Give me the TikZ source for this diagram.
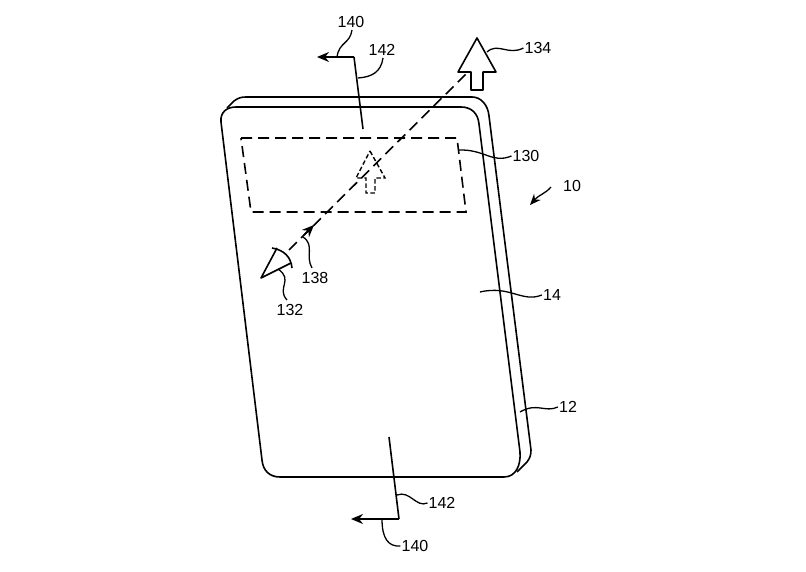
\documentclass[tikz,border=0pt]{standalone}
\usepackage{fontspec}
\setmainfont{Liberation Sans}
\usepackage{xcolor}
\usetikzlibrary{arrows.meta,positioning,calc}
\tikzset{
    outline/.style={line width=1.6pt,line join=round},
    leader/.style={line width=1.3pt},
    refnum/.style={font=\fontsize{16}{18}\selectfont,inner sep=1pt},
    dashline/.style={line width=1.6pt,dash pattern=on 11pt off 6pt},
    dashsmall/.style={line width=1.4pt,dash pattern=on 4.5pt off 2.5pt},
    pointer/.style={-{Stealth[length=12pt,width=10pt]},line width=1.6pt}
}
\begin{document}
\begin{tikzpicture}[x=1pt,y=-1pt]
        \useasboundingbox (0,0) rectangle (806,572);
        % Draw back of the device
        \draw[outline] (227,108) -- (234,101) .. controls (238,98) and (241,97) .. (246,97) -- (472,97)
            .. controls (481,97) and (488,105) .. (489,116) -- (531,450)
            .. controls (531,455) and (530,458) .. (527,462) -- (517,472);
        
        % Draw front face
        \draw[outline] (221,122) .. controls (220,112) and (227,107) .. (236,107) -- (461,107)
            .. controls (471,107) and (478,113) .. (479,124) -- (520,452)
            .. controls (521,465) and (516,477) .. (504,477) -- (280,477)
            .. controls (270,477) and (263,471) .. (262,460) -- cycle;
        
        % Draw display window
        \draw[dashline] (241,138) -- (457,138) -- (466,212) -- (251,212) -- cycle;
        
        % Draw far image arrow
        \draw[outline] (477,38) -- (496,72) -- (483,72) -- (483,90) -- (471,90) -- (471,72) -- (458,72) -- cycle;
        
        % Draw near image arrow
        \draw[dashsmall] (370,151) -- (385,178) -- (375,178) -- (375,193) -- (366,193) -- (366,178) -- (356,178) -- cycle;
        
        % Draw eye
        \coordinate (eyetip) at (261,278);
        \draw[outline] (277,248) -- (eyetip) -- (291,263);
        \draw[outline] (272,248) .. controls (284,250) and (291,257) .. (292,268);
        
        % Draw line of sight
        \coordinate (sightstart) at (289,250);
        \coordinate (sightend) at (467,73);
        \coordinate (sightmark) at (314,225);
        \draw[dashline] (sightstart) -- (sightend);
        \draw[-{Stealth[length=12pt,width=10pt]},line width=1.5pt] (304,235) -- (sightmark);
        
        % Draw section lines
        \coordinate (cuttop) at (363,129);
        \coordinate (bendtop) at (354,57);
        \coordinate (tiptop) at (317,57);
        \draw[outline] (cuttop) -- (bendtop);
        \draw[pointer] (bendtop) -- (tiptop);
        \coordinate (cutbot) at (389,437);
        \coordinate (bendbot) at (399,519);
        \coordinate (tipbot) at (351,519);
        \draw[outline] (cutbot) -- (bendbot);
        \draw[pointer] (bendbot) -- (tipbot);
        
        % Add reference numbers
        \node[refnum] (n140a) at (351,22) {140};
        \node[refnum] (n142a) at (382,50) {142};
        \node[refnum] (n134) at (538,48) {134};
        \node[refnum] (n130) at (526,156) {130};
        \node[refnum] (n10) at (572,186) {10};
        \node[refnum] (n138) at (315,278) {138};
        \node[refnum] (n132) at (290,310) {132};
        \node[refnum] (n14) at (552,295) {14};
        \node[refnum] (n12) at (568,407) {12};
        \node[refnum] (n142b) at (442,503) {142};
        \node[refnum] (n140b) at (415,546) {140};
        
        % Draw leaders
        \coordinate (end140a) at (337,57);
        \coordinate (end142a) at (358,78);
        \coordinate (end134) at (487,52);
        \coordinate (end130) at (458,150);
        \coordinate (end10) at (530,205);
        \coordinate (end138) at (303,237);
        \coordinate (end132) at (278,269);
        \coordinate (end14) at (480,292);
        \coordinate (end12) at (520,412);
        \coordinate (end142b) at (397,495);
        \coordinate (end140b) at (382,519);
        \draw[leader] (352,30) .. controls (350,44) and (339,42) .. (end140a);
        \draw[leader] (383,58) .. controls (381,72) and (372,77) .. (end142a);
        \draw[leader] (n134.west) .. controls (508,56) and (498,42) .. (end134);
        \draw[leader] (n130.west) .. controls (492,164) and (485,149) .. (end130);
        \draw[leader,-{Stealth[length=11pt,width=9pt]}] (551,187) .. controls (545,194) and (540,194) .. (end10);
        \draw[leader] (312,268) .. controls (305,256) and (315,245) .. (end138);
        \draw[leader] (287,300) .. controls (276,288) and (294,280) .. (end132);
        \draw[leader] (n14.west) .. controls (522,303) and (510,285) .. (end14);
        \draw[leader] (n12.west) .. controls (545,413) and (537,402) .. (end12);
        \draw[leader] (n142b.west) .. controls (416,508) and (410,490) .. (end142b);
        \draw[leader] (n140b.west) .. controls (388,547) and (382,538) .. (end140b);
        
    \end{tikzpicture}
\end{document}
